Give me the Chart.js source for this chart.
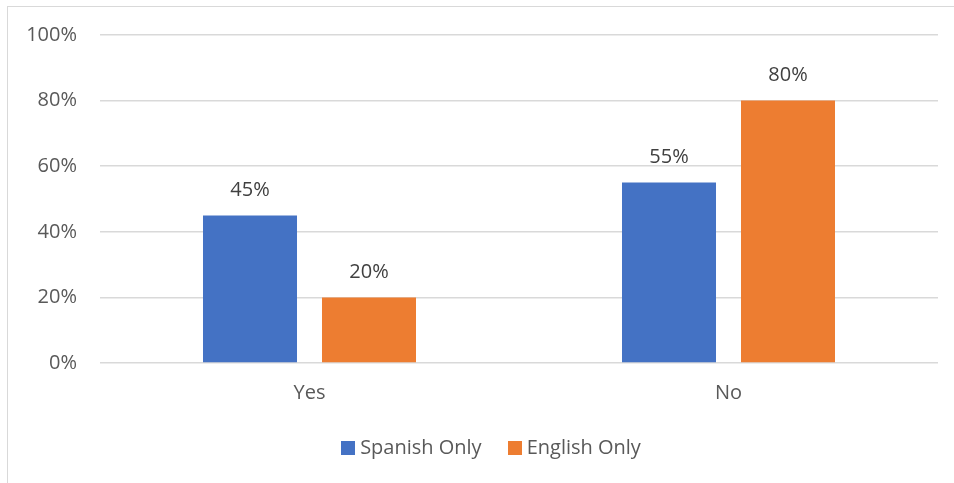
<!DOCTYPE html>
<html>
<head>
<meta charset="utf-8">
<script src="https://cdn.jsdelivr.net/npm/chart.js@4"></script>
<style>
  html, body { margin: 0; padding: 0; background: #fff; overflow: hidden; }
  #frame { position: absolute; left: 7px; top: 6px; width: 960px; height: 490px; border: 1.5px solid #d9d9d9; }
  #wrap { position: absolute; left: 0; top: 0; width: 954px; height: 483px; }
  #legend { position: absolute; left: 0; top: 435px; width: 982px; height: 24px; display: flex; justify-content: center;
            font: 20px 'Open Sans', sans-serif; color: #595959; line-height: 24px; }
  #legend .item { display: flex; align-items: center; margin: 0 13px; }
  #legend .box { width: 14px; height: 14px; margin-right: 5px; margin-top: 2px; }
</style>
</head>
<body>
<div id="frame"></div>
<div id="wrap"><canvas id="chart" width="954" height="483"></canvas></div>
<div id="legend"></div>
<script>
const categories = ['Yes', 'No'];
const seriesNames = ['Spanish Only', 'English Only'];
const spanishOnly = [45, 55];
const englishOnly = [20, 80];
const yTicks = [0, 20, 40, 60, 80, 100];
const colors = ['#4472C4', '#ED7D31'];

const FONT = "'Open Sans', sans-serif";

// draws the value above each bar
const valueLabels = {
  id: 'valueLabels',
  afterDatasetsDraw(chart) {
    const ctx = chart.ctx;
    ctx.save();
    ctx.font = '20px ' + FONT;
    ctx.fillStyle = '#404040';
    ctx.textAlign = 'center';
    ctx.textBaseline = 'middle';
    chart.data.datasets.forEach((ds, i) => {
      chart.getDatasetMeta(i).data.forEach((bar, j) => {
        ctx.fillText(ds.data[j] + '%', bar.x, bar.y - 25);
      });
    });
    ctx.restore();
  }
};

const chart = new Chart(document.getElementById('chart'), {
  type: 'bar',
  data: {
    labels: categories,
    datasets: [
      { label: seriesNames[0], data: spanishOnly, backgroundColor: colors[0] },
      { label: seriesNames[1], data: englishOnly, backgroundColor: colors[1] }
    ]
  },
  options: {
    responsive: false,
    animation: false,
    categoryPercentage: 0.568,
    barPercentage: 0.79,
    layout: { padding: { left: 0, right: 16, top: 35, bottom: 0 } },
    scales: {
      x: {
        grid: { display: false, drawTicks: false },
        border: { display: false },
        ticks: { padding: 18, color: '#595959', font: { family: FONT, size: 20 } },
        afterFit(scale) { scale.height = 120; }
      },
      y: {
        min: 0,
        max: 100,
        afterBuildTicks(scale) { scale.ticks = yTicks.map(v => ({ value: v })); },
        afterFit(scale) { scale.width = 100; },
        grid: { color: '#d9d9d9', lineWidth: 1.5, drawTicks: false },
        border: { display: false },
        ticks: {
          padding: 23,
          color: '#595959',
          font: { family: FONT, size: 20 },
          callback: v => v + '%'
        }
      }
    },
    plugins: {
      legend: { display: false },
      tooltip: { enabled: false }
    }
  },
  plugins: [valueLabels]
});

// html legend built from the datasets
const legend = document.getElementById('legend');
chart.data.datasets.forEach(ds => {
  const item = document.createElement('div');
  item.className = 'item';
  const box = document.createElement('span');
  box.className = 'box';
  box.style.background = ds.backgroundColor;
  const label = document.createElement('span');
  label.textContent = ds.label;
  item.appendChild(box);
  item.appendChild(label);
  legend.appendChild(item);
});
</script>
</body>
</html>
